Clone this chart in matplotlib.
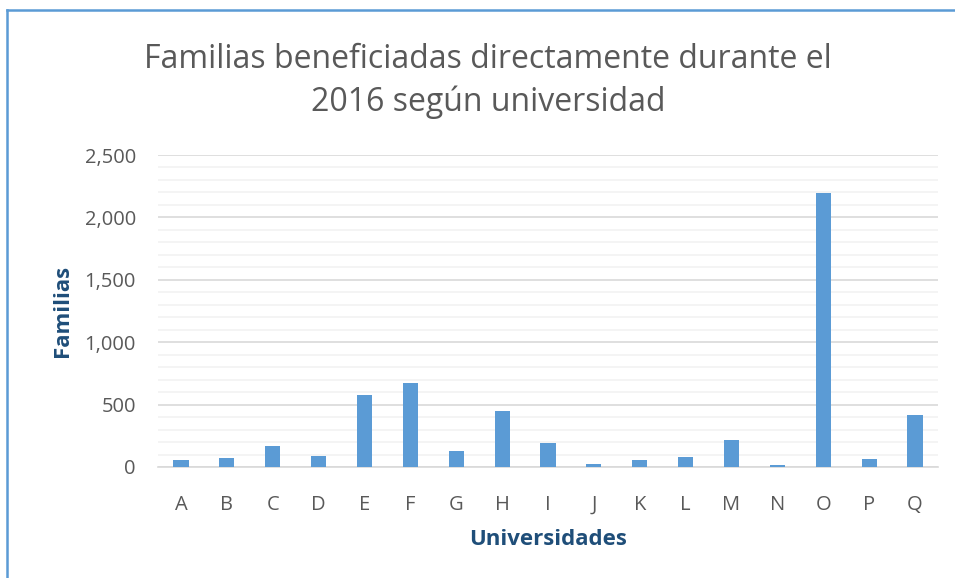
import numpy as np
import matplotlib.pyplot as plt
from matplotlib.ticker import MultipleLocator, FuncFormatter
from matplotlib.lines import Line2D

universidades = ['A', 'B', 'C', 'D', 'E', 'F', 'G', 'H', 'I', 'J', 'K', 'L', 'M', 'N', 'O', 'P', 'Q']
familias = [58, 70, 165, 85, 580, 675, 132, 445, 195, 25, 60, 80, 220, 18, 2195, 65, 420]

plt.rcParams['font.family'] = ['Open Sans', 'DejaVu Sans']

fig = plt.figure(figsize=(9.55, 5.78), dpi=100)
ax = fig.add_axes([158 / 955, 1 - 467 / 578, 780 / 955, 312 / 578])

x = np.arange(len(universidades))
ax.bar(x, familias, width=0.33, color='#5B9BD5', zorder=3)

ax.set_xlim(-0.5, len(universidades) - 0.5)
ax.set_ylim(0, 2500)
ax.yaxis.set_major_locator(MultipleLocator(500))
ax.yaxis.set_minor_locator(MultipleLocator(100))
ax.yaxis.set_major_formatter(FuncFormatter(lambda v, p: f'{int(v):,}'))
ax.grid(axis='y', which='major', color='#D9D9D9', lw=1.2, zorder=0)
ax.grid(axis='y', which='minor', color='#F2F2F2', lw=1.2, zorder=0)
ax.set_xticks(x)
ax.set_xticklabels(universidades)
ax.tick_params(axis='both', which='both', length=0, labelsize=14.5, colors='#595959')
ax.tick_params(axis='x', pad=20)
ax.tick_params(axis='y', pad=16)
for s in ['top', 'right', 'left']:
    ax.spines[s].set_visible(False)
ax.spines['bottom'].set_color('#D9D9D9')
ax.spines['bottom'].set_linewidth(1.2)

ax.set_xlabel('Universidades', fontsize=16, fontweight='bold', color='#1F4E79', labelpad=10)
ax.set_ylabel('Familias', fontsize=16, fontweight='bold', color='#1F4E79', labelpad=8)

fig.text(488 / 955, 1 - 81 / 578, 'Familias beneficiadas directamente durante el\n2016 según universidad',
         ha='center', va='center', fontsize=23, color='#595959', linespacing=1.4)

# chart border (top and left visible)
fig.add_artist(Line2D([7 / 955, 7 / 955], [0, 1 - 10 / 578], color='#5B9BD5', lw=1.8))
fig.add_artist(Line2D([7 / 955, 1], [1 - 10 / 578, 1 - 10 / 578], color='#5B9BD5', lw=1.8))

fig.savefig('out.png', dpi=100)
